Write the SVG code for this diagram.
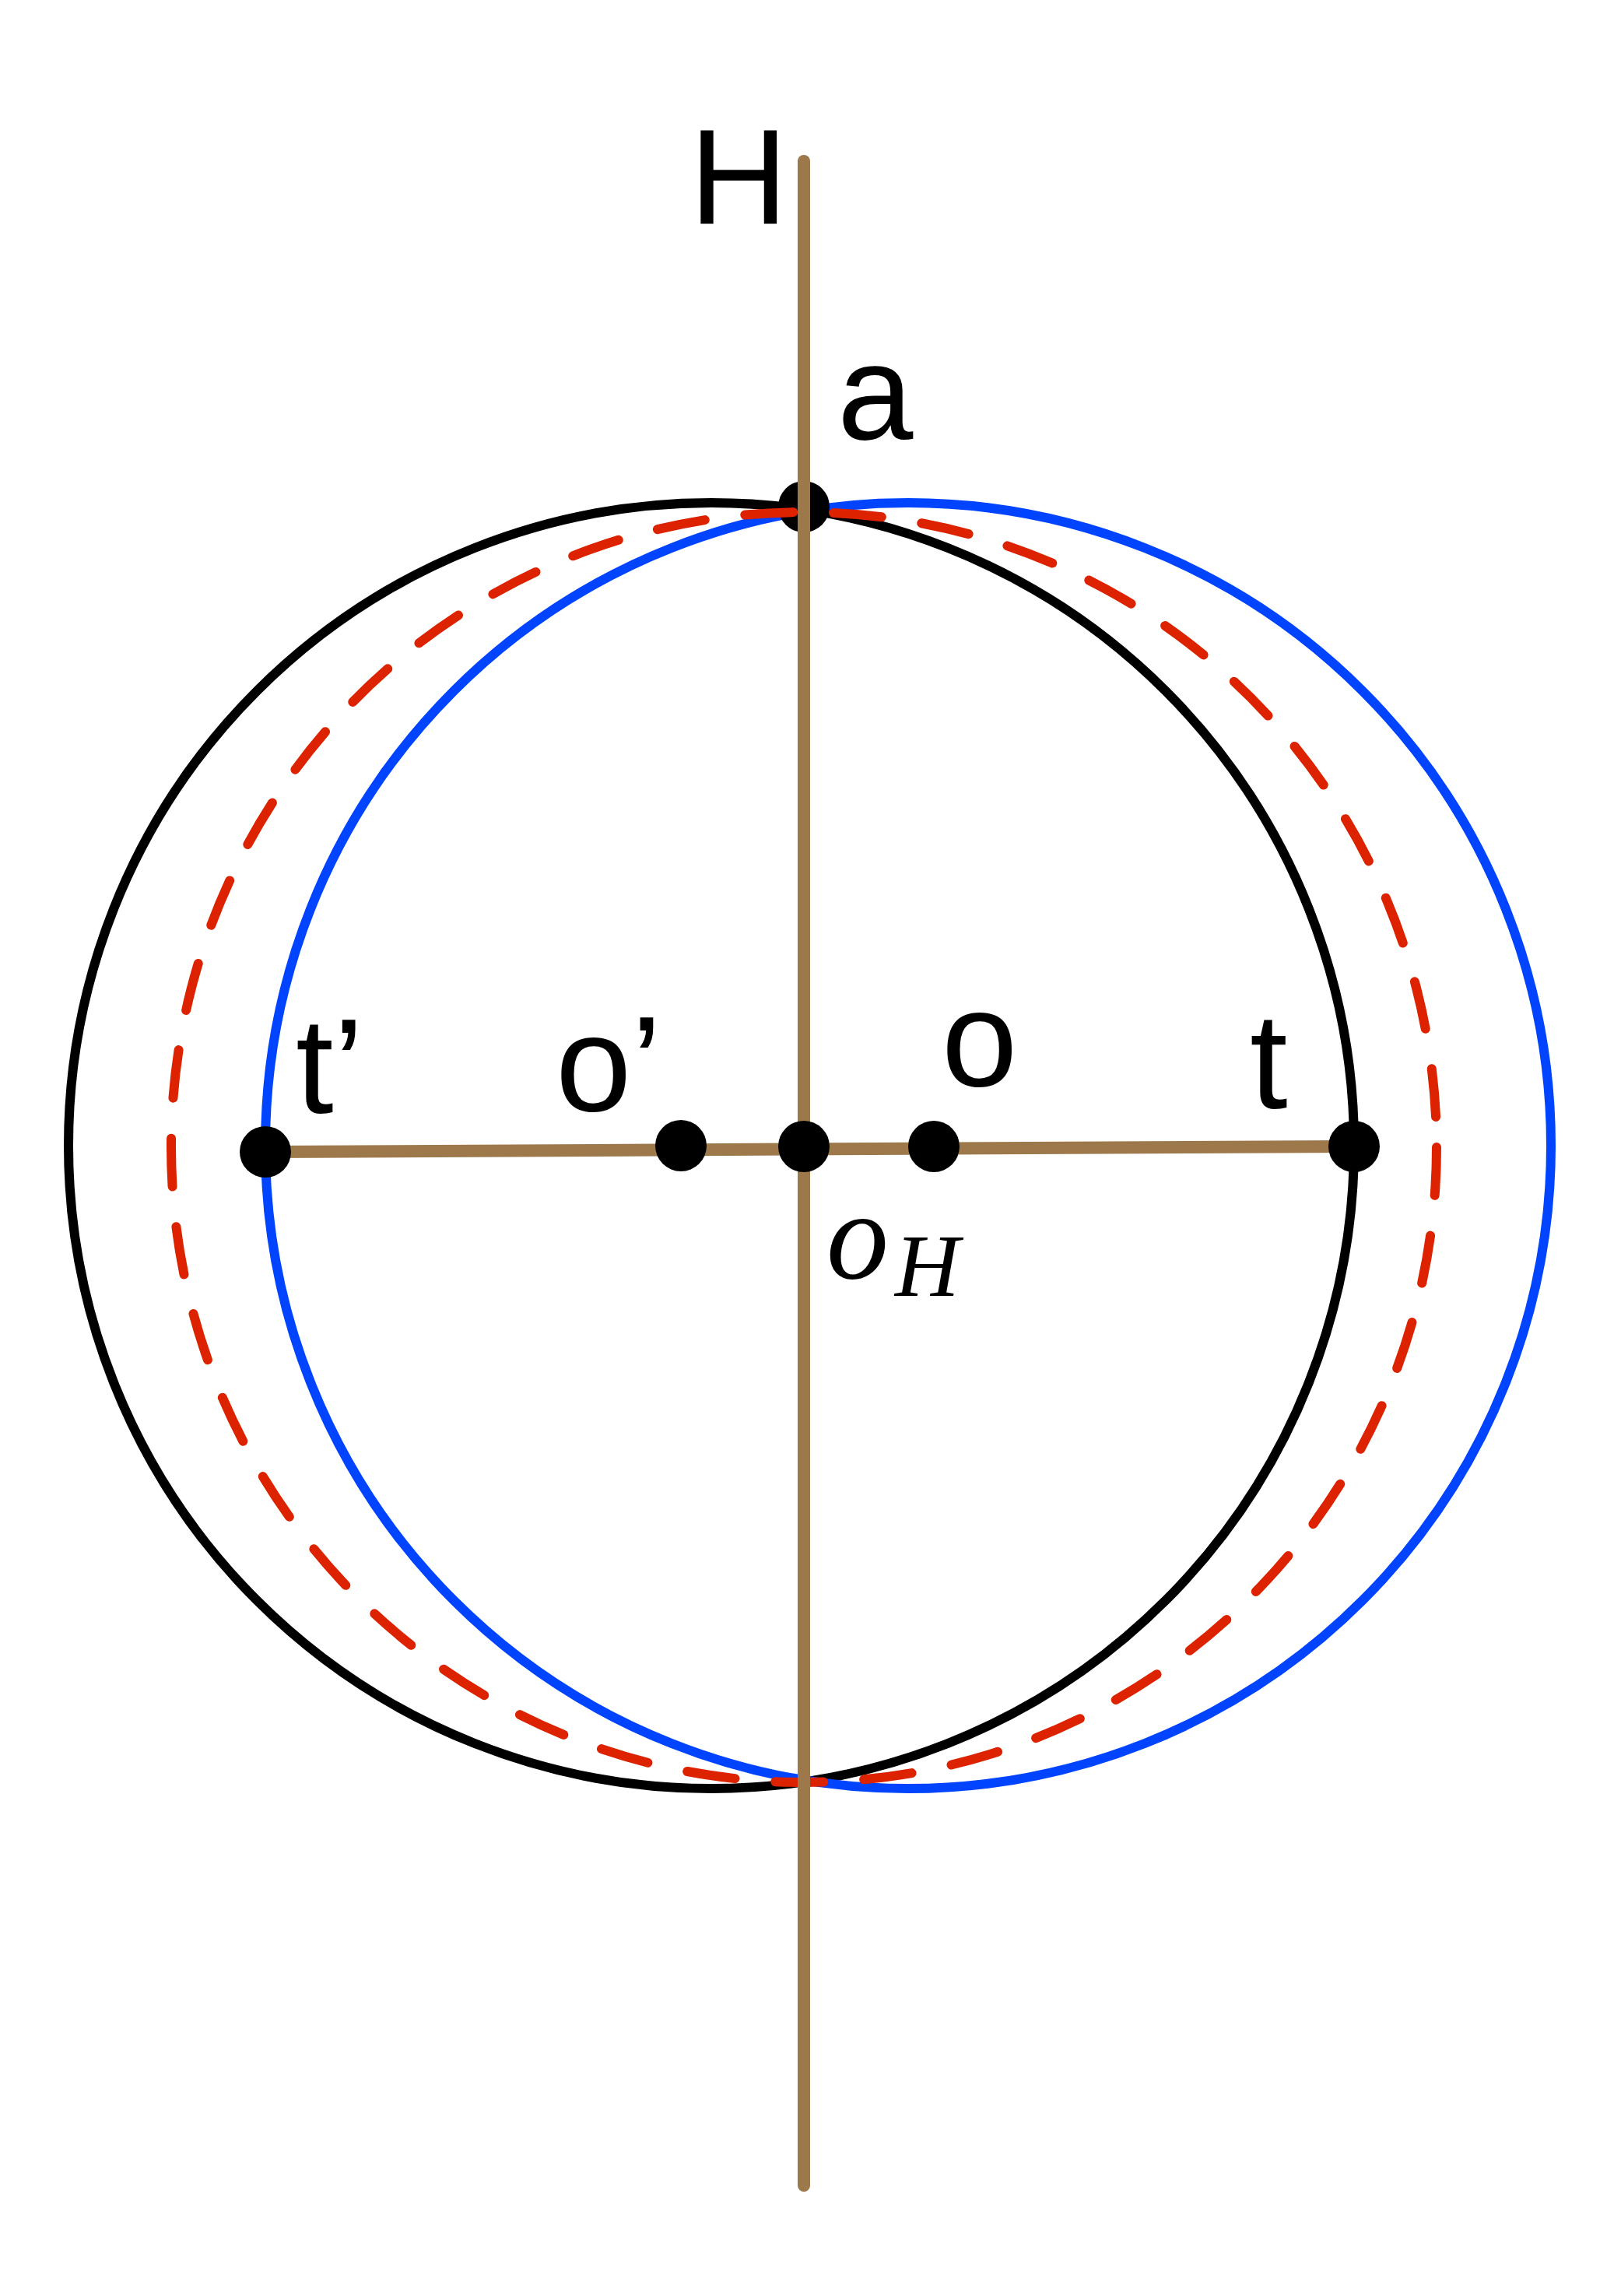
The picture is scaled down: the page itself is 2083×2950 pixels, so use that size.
<svg xmlns="http://www.w3.org/2000/svg" width="2083" height="2950" viewBox="0 0 2083 2950">
<style>
.lbl{font-family:"Liberation Sans",Arial,sans-serif;font-size:175px;fill:#000}
.m{font-family:"Liberation Serif","Times New Roman",serif;font-style:italic;fill:#000}
.c{fill:none;stroke-width:12}
.ln{stroke:#9C784A;stroke-width:16;stroke-linecap:round}
.dot{fill:#000}
</style>
<rect width="2083" height="2950" fill="#fff"/>
<g id="circle-black"><circle class="c" cx="914" cy="1472" r="826" stroke="#000"/></g>
<g id="circle-blue"><circle class="c" cx="1167" cy="1472" r="826" stroke="#0044FF"/></g>
<g id="node-a"><circle class="dot" cx="1033" cy="651" r="33"/><text class="lbl" x="1076" y="564">a</text></g>
<g id="circle-red"><ellipse cx="1033" cy="1474" rx="813" ry="816" fill="none" stroke="#DD2200" stroke-width="12" stroke-dasharray="62 52" stroke-linecap="round"/></g>
<g id="connectors">
<line class="ln" x1="1033" y1="207" x2="1033" y2="2808"/>
<line class="ln" x1="341" y1="1480" x2="1740" y2="1473"/>
</g>
<g id="label-H"><text class="lbl" x="886" y="288">H</text></g>
<g id="node-tprime"><circle class="dot" cx="341" cy="1480" r="33"/><text class="lbl" x="380" y="1430">t’</text></g>
<g id="node-oprime"><circle class="dot" cx="875" cy="1472" r="33"/><text class="lbl" x="714" y="1427">o’</text></g>
<g id="node-oH"><circle class="dot" cx="1033" cy="1473" r="33"/><text class="m" x="1062" y="1642" font-size="160">o</text><text class="m" x="1150" y="1665" font-size="115">H</text></g>
<g id="node-o"><circle class="dot" cx="1200" cy="1473" r="33"/><text class="lbl" x="1210" y="1395">o</text></g>
<g id="node-t"><circle class="dot" cx="1740" cy="1473" r="33"/><text class="lbl" x="1606" y="1424">t</text></g>
</svg>
